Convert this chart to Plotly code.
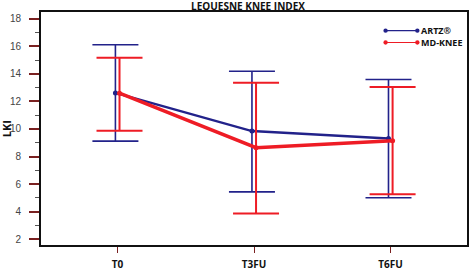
import plotly.graph_objects as go

categories = ["T0", "T3FU", "T6FU"]
artz_mean = [12.62, 9.85, 9.31]
artz_upper = [16.12, 14.2, 13.6]
artz_lower = [9.12, 5.43, 5.0]
md_mean = [12.6, 8.64, 9.14]
md_upper = [15.17, 13.36, 13.05]
md_lower = [9.88, 3.86, 5.26]
y_ticks = [2, 4, 6, 8, 10, 12, 14, 16, 18]

BLUE = "#22228a"
RED = "#ee1c25"
FONT_B = "Open Sans"

idx = list(range(len(categories)))
fig = go.Figure()

def add_series(mean, up, lo, color, lw, ew, off):
    fig.add_trace(go.Scatter(
        x=[i + off for i in idx], y=mean, mode="lines+markers",
        line=dict(color=color, width=lw),
        marker=dict(color=color, size=5),
        error_y=dict(type="data", symmetric=False,
                     array=[u - m for u, m in zip(up, mean)],
                     arrayminus=[m - l for m, l in zip(mean, lo)],
                     color=color, thickness=ew, width=23),
        showlegend=False, cliponaxis=False))

add_series(artz_mean, artz_upper, artz_lower, BLUE, 2.4, 1.6, -0.015)
add_series(md_mean, md_upper, md_lower, RED, 3.4, 2.0, 0.015)

# manual legend (markers at both ends of the sample line)
shapes = []
annotations = []
for (name, color, ypx) in [("ARTZ®", BLUE, 31), ("MD-KNEE", RED, 43)]:
    yp = 1 - (ypx - 12) / 237
    x0 = (388 - 41) / 429
    x1 = (420 - 41) / 429
    shapes.append(dict(type="line", xref="paper", yref="paper", x0=x0, x1=x1, y0=yp, y1=yp,
                       line=dict(color=color, width=1.2)))
    for xx in (x0, x1):
        shapes.append(dict(type="circle", xref="paper", yref="paper",
                           x0=xx - 2.2 / 429, x1=xx + 2.2 / 429,
                           y0=yp - 2.2 / 237, y1=yp + 2.2 / 237,
                           fillcolor=color, line=dict(color=color, width=0)))
    annotations.append(dict(text="<b>" + name + "</b>", xref="paper", yref="paper",
                            x=(422 - 41) / 429, y=yp, xanchor="left", yanchor="middle",
                            showarrow=False, font=dict(family=FONT_B, size=9, color="#111")))

annotations.append(dict(text="<b>LKI</b>", xref="paper", yref="paper",
                        x=(7 - 41) / 429, y=1 - (131 - 12) / 237, textangle=-90,
                        xanchor="center", yanchor="middle", showarrow=False,
                        font=dict(family=FONT_B, size=11, color="#111")))

fig.update_layout(
    width=472, height=274,
    margin=dict(l=41, r=3, t=12, b=25),
    paper_bgcolor="white", plot_bgcolor="white",
    title=dict(text="<b>LEQUESNE KNEE INDEX</b>", x=248 / 472, y=1 - 6 / 274,
               xanchor="center", yanchor="middle",
               font=dict(family=FONT_B, size=10, color="#111")),
    shapes=shapes, annotations=annotations,
    xaxis=dict(range=[-0.56, 2.56], tickvals=idx,
               ticktext=["<b>" + c + "</b>" for c in categories],
               ticks="outside", ticklen=6, tickwidth=1.2, tickcolor="#7a2020",
               showgrid=False, zeroline=False,
               showline=True, linecolor="#111", linewidth=2, mirror=True,
               ticklabelstandoff=3,
               tickfont=dict(family=FONT_B, size=10, color="#111")),
    yaxis=dict(range=[1.57, 18.5], tickvals=y_ticks,
               ticks="outside", ticklen=10, tickwidth=1.6, tickcolor="#7a2020",
               minor=dict(dtick=1, tick0=1, ticks="outside", ticklen=4, tickwidth=1, tickcolor="#555"),
               showgrid=False, zeroline=False,
               showline=True, linecolor="#111", linewidth=2, mirror=True,
               ticklabelstandoff=6,
               tickfont=dict(family="Liberation Sans", size=10, color="#444")),
)

fig.write_html("out.html", config={"displayModeBar": False})

with open("out.html", "r", encoding="utf-8") as f:
    html = f.read()
html = html.replace("<body>", '<body style="margin:0;padding:0;overflow:hidden">', 1)
with open("out.html", "w", encoding="utf-8") as f:
    f.write(html)
